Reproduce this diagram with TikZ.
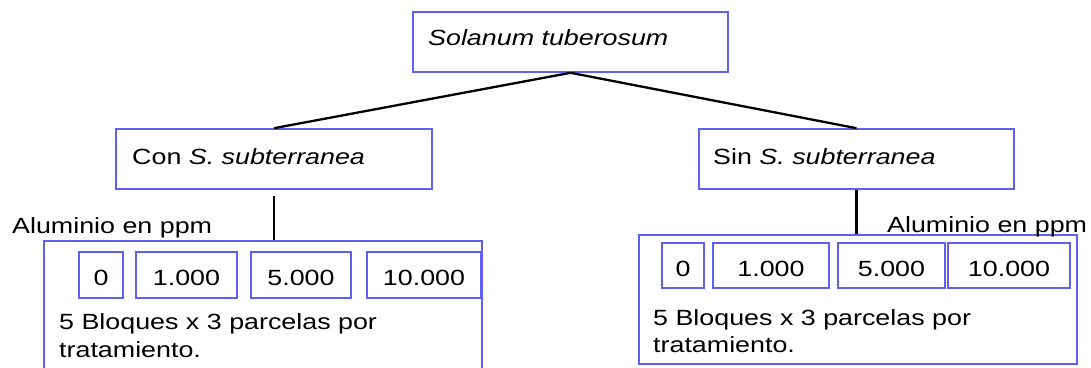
\documentclass[tikz,border=0pt]{standalone}
\usepackage{fontspec}
\setmainfont{Liberation Sans}[FakeStretch=1.22]
\definecolor{boxblue}{RGB}{95,95,240}
\begin{document}
\begin{tikzpicture}[x=1pt,y=-1pt,
  box/.style={draw=boxblue, line width=1.6pt, rectangle, inner sep=0pt},
  valbox/.style={box, minimum height=#1, text height=21.5pt, text depth=0pt,
    font=\fontsize{22}{26}\selectfont},
  link/.style={draw=black, line width=2.3pt},
  txt/.style={anchor=base west, inner sep=0pt, font=\fontsize{22}{28}\selectfont}]
\useasboundingbox (0,0) rectangle (1091,367);
\clip (0,0) rectangle (1091,367);

% tree of treatments
\node[box, minimum width=315, minimum height=60] (top) at (570.5,42) {};
\node[box, minimum width=316, minimum height=60] (con) at (274,159) {};
\node[box, minimum width=315, minimum height=60] (sin) at (856.5,159) {};
\node[txt] (toptxt) at (428,45) {\textit{Solanum tuberosum}};
\node[txt] (contxt) at (132,164) {Con \textit{S. subterranea}};
\node[txt] (sintxt) at (713,164) {Sin \textit{S. subterranea}};

% aluminium blocks
\node[box, minimum width=438, minimum height=149] (lblk) at (263,315.5) {};
\node[box, minimum width=438, minimum height=129] (rblk) at (858,299.5) {};

\node[txt] (lal) at (12,233) {Aluminio en ppm};
\node[txt] (ral) at (887,232) {Aluminio en ppm};

\node[valbox=46, minimum width=44]  (l0)  at (101,275)   {0};
\node[valbox=46, minimum width=101] (l1)  at (186.5,275) {1.000};
\node[valbox=46, minimum width=100] (l5)  at (301,275)   {5.000};
\node[valbox=46, minimum width=114] (l10) at (424,275)   {10.000};

\node[valbox=45, minimum width=42]  (r0)  at (683,265.5)   {0};
\node[valbox=45, minimum width=116] (r1)  at (771,265.5)   {1.000};
\node[valbox=45, minimum width=107] (r5)  at (891.5,265.5) {5.000};
\node[valbox=45, minimum width=122] (r10) at (1009,265.5)  {10.000};

\node[txt] (lt1) at (59,329) {5 Bloques x 3 parcelas por};
\node[txt] (lt2) at (59,357) {tratamiento.};
\node[txt] (rt1) at (653,325) {5 Bloques x 3 parcelas por};
\node[txt] (rt2) at (653,352) {tratamiento.};

% connectors
\draw[link] (top.south) -- (con.north);
\draw[link] (top.south) -- (sin.north);
\draw[link, shorten <=6pt] (con.south) -- (con.south |- lblk.north);
\draw[link] (sin.south) -- (sin.south |- rblk.north);
\end{tikzpicture}
\end{document}
